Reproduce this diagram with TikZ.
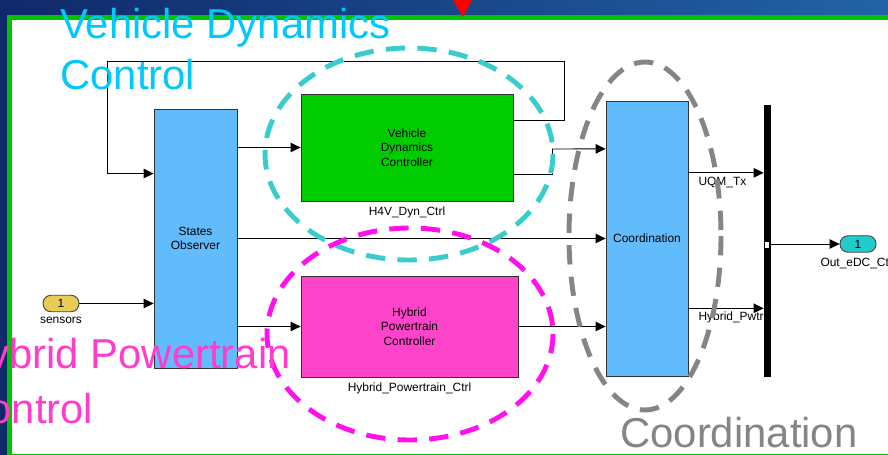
\documentclass[tikz,border=0pt]{standalone}
\usepackage{fontspec}
\setmainfont{Liberation Sans}
\usetikzlibrary{calc,positioning,arrows.meta}

\definecolor{slidedark}{HTML}{10296A}
\definecolor{slidelight}{HTML}{2262A6}
\definecolor{framegreen}{HTML}{00C400}
\definecolor{obsblue}{HTML}{62BCFB}
\definecolor{ctrlgreen}{HTML}{00CC00}
\definecolor{ctrlmag}{HTML}{FF44CC}
\definecolor{inyellow}{HTML}{E8CC55}
\definecolor{outcyan}{HTML}{22CCCC}
\definecolor{ringcyan}{HTML}{38CCCC}
\definecolor{ringmag}{HTML}{FF11EE}
\definecolor{ringgray}{HTML}{858585}
\definecolor{vdctext}{HTML}{00C8FA}
\definecolor{hpctext}{HTML}{FF3CCC}

\begin{document}
\begin{tikzpicture}[x=0.02cm, y=-0.02cm,
	blk/.style={draw=black!80, line width=0.5pt, inner sep=0pt, align=center,
		font=\fontsize{6.8}{8.4}\selectfont},
	port/.style={draw=black!75, line width=0.5pt, rounded corners=0.16cm, inner sep=0pt,
		minimum width=0.72cm, minimum height=0.33cm, font=\fontsize{6.8}{8}\selectfont},
	lbl/.style={font=\fontsize{6.8}{8}\selectfont, inner sep=1pt},
	wire/.style={line width=0.5pt},
	sig/.style={line width=0.5pt, -{Triangle[length=0.2cm,width=0.19cm]}},
	ring/.style={line width=2.8pt, dash pattern=on 11pt off 7pt},
	big/.style={font=\fontsize{23.8}{29.5}\selectfont, align=left, inner sep=0pt}]

	% slide background and frame
	\clip (0,0) rectangle (888,455);
	\shade[left color=slidedark, right color=slidelight] (0,0) rectangle (888,455);
	\fill[framegreen] (7,15) rectangle (888,455);
	\fill[white] (12,20) rectangle (888,453.5);
	\fill[red] (453,0) -- (472,0) -- (463,17) -- cycle;

	% blocks
	\node[blk, fill=obsblue, minimum width=1.66cm, minimum height=5.18cm] (so) at (195.5,238.5) {States\\Observer};
	\node[blk, fill=ctrlgreen, minimum width=4.24cm, minimum height=2.14cm] (vdc) at (407,147.5) {Vehicle\\Dynamics\\Controller};
	\node[blk, fill=ctrlmag, minimum width=4.34cm, minimum height=2.02cm] (hpc) at (409.5,326.5) {Hybrid\\Powertrain\\Controller};
	\node[blk, fill=obsblue, minimum width=1.64cm, minimum height=5.5cm] (coord) at (647,238.5) {Coordination};
	\node[fill=black, inner sep=0pt, minimum width=0.14cm, minimum height=5.44cm] (bus) at (767.5,241) {};

	% ports
	\node[port, fill=inyellow] (sensors) at (61,303.5) {1};
	\node[port, fill=outcyan] (outp) at (858,244) {1};

	% block labels
	\node[lbl, below=1.5pt of sensors] {sensors};
	\node[lbl, below=2pt of vdc] {H4V\_Dyn\_Ctrl};
	\node[lbl, below=2pt of hpc] {Hybrid\_Powertrain\_Ctrl};
	\node[lbl, below=2pt of outp] {Out\_eDC\_Ctrl};

	% points
	\coordinate (vdcA) at ($(vdc.north east)!0.25!(vdc.south east)$);
	\coordinate (vdcB) at ($(vdc.north east)!0.75!(vdc.south east)$);
	\coordinate (soA) at ($(so.north west)!0.25!(so.south west)$);
	\coordinate (coA) at ($(coord.north west)!0.175!(coord.south west)$);
	\coordinate (coOutA) at ($(coord.north east)!0.262!(coord.south east)$);
	\coordinate (coOutB) at ($(coord.north east)!0.753!(coord.south east)$);
	\coordinate (loopR) at (564,61);
	\coordinate (loopL) at (107,61);
	\coordinate (join) at (552,149);

	% signal lines
	\draw[sig] (sensors.east) -- (sensors.east -| so.west);
	\draw[sig] (so.east |- vdc.west) -- (vdc.west);
	\draw[sig] (so.east |- coord.west) -- (coord.west);
	\draw[sig] (so.east |- hpc.west) -- (hpc.west);
	\draw[sig] (vdcA) -| (loopR) -- (loopL) |- (soA);
	\draw[wire] (vdcB) -| (join);
	\draw[sig] (join) -- (coA);
	\draw[sig] (hpc.east) -- (hpc.east -| coord.west);
	\draw[sig] (coOutA) -- (coOutA -| bus.west)
		node[lbl, pos=0, anchor=north west, xshift=4.5pt, yshift=-1pt] {UQM\_Tx};
	\draw[sig] (coOutB) -- (coOutB -| bus.west)
		node[lbl, pos=0, anchor=north west, xshift=4.5pt, yshift=-1pt] {Hybrid\_Pwtr};
	\draw[sig] (bus.east |- outp.west) -- (outp.west);
	\draw[fill=white, line width=0.3pt] (764.5,241) rectangle (769.5,248);

	% groups
	\draw[ring, ringcyan] (409,154) ellipse [x radius=144, y radius=106];
	\draw[ring, ringmag] (410,334) ellipse [x radius=143, y radius=106];
	\draw[ring, ringgray] (645,236) ellipse [x radius=76, y radius=174];

	% slide titles
	\node[big, text=vdctext, anchor=base west] at (60,90) {Vehicle Dynamics\\Control};
	\node[big, text=hpctext, anchor=base west, font=\fontsize{23.8}{31.2}\selectfont] at (-42,423) {Hybrid Powertrain\\Control};
	\node[big, text=ringgray, anchor=base west] at (620,447) {Coordination};

\end{tikzpicture}
\end{document}
